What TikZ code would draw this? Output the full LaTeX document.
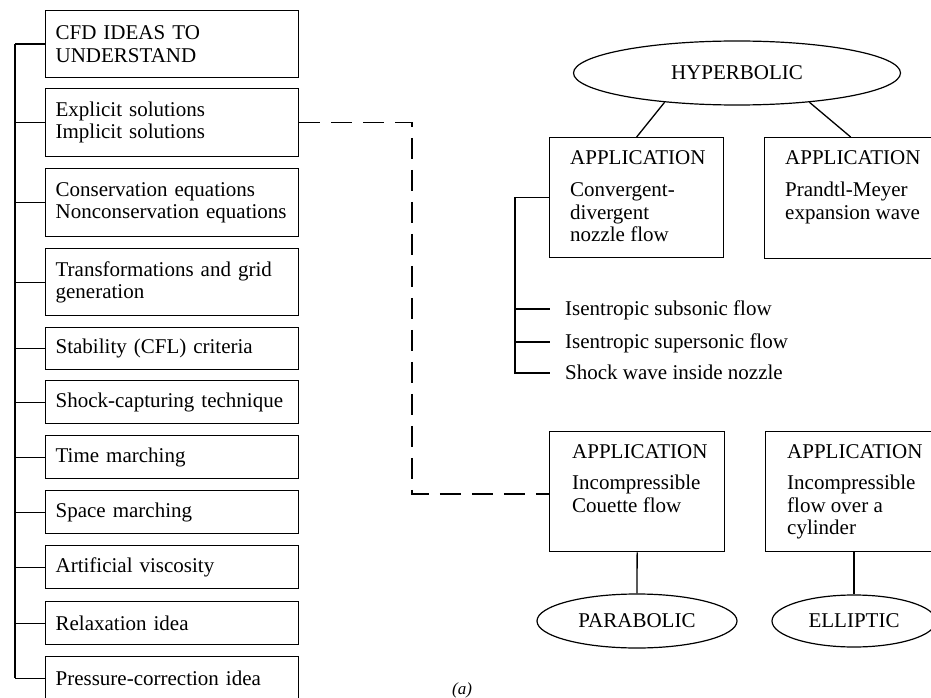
\documentclass[tikz,border=0pt]{standalone}
\usepackage{fontspec}
\setmainfont{Liberation Serif}
\usetikzlibrary{shapes.geometric}
\begin{document}
\begin{tikzpicture}[x=1bp,y=-1bp,
  every node/.style={font=\fontsize{21bp}{22.5bp}\selectfont},
  ln/.style={line width=1.3bp},
  lbox/.style={draw, line width=1.3bp, anchor=north west, text width=233bp, inner xsep=10bp, inner ysep=0pt, align=left},
  abox/.style={draw, line width=1.3bp, anchor=north west, inner sep=0pt},
  atext/.style={anchor=base west, inner sep=0pt},
  oval/.style={draw, ellipse, line width=1.2bp, inner sep=0pt},
  item/.style={anchor=west, inner xsep=15bp, inner ysep=0pt, text height=15bp, text depth=3bp},
  dashline/.style={line width=1.1bp, dash pattern=on 21bp off 11bp}
]
\useasboundingbox (0,0) rectangle (931,698);

% left column
\node[lbox, minimum height=67bp] (b1) at (45,10) {CFD IDEAS TO\\UNDERSTAND};
\node[lbox, minimum height=68bp] (b2) at (45,88) {Explicit solutions\\Implicit solutions};
\node[lbox, minimum height=68bp] (b3) at (45,168) {Conservation equations\\Nonconservation equations};
\node[lbox, minimum height=67bp] (b4) at (45,248) {Transformations and grid\\generation};
\node[lbox, minimum height=42bp] (b5) at (45,327) {Stability (CFL) criteria};
\node[lbox, minimum height=43bp] (b6) at (45,380) {Shock-capturing technique};
\node[lbox, minimum height=43bp] (b7) at (45,435) {Time marching};
\node[lbox, minimum height=43bp] (b8) at (45,490) {Space marching};
\node[lbox, minimum height=43bp] (b9) at (45,545) {Artificial viscosity};
\node[lbox, minimum height=43bp] (b10) at (45,601) {Relaxation idea};
\node[lbox, minimum height=43bp] (b11) at (45,656) {Pressure-correction idea};

\coordinate (lt) at (15,0);
\draw[ln] (b1.west -| lt) -- (b11.west -| lt);
\foreach \i in {1,...,11} {\draw[ln] (b\i.west) -- (b\i.west -| lt);}

% right side
\node[oval, minimum width=327bp, minimum height=64bp] (hyp) at (737,73) {HYPERBOLIC};
\node[abox, minimum width=174bp, minimum height=120bp] (conv) at (549,137) {};
\node[abox, minimum width=172bp, minimum height=121bp] (pm) at (764,137) {};
\node[abox, minimum width=175bp, minimum height=120bp] (cou) at (549,431) {};
\node[abox, minimum width=172bp, minimum height=120bp] (cyl) at (765,431) {};
\node[oval, minimum width=200bp, minimum height=54bp] (par) at (637,621) {PARABOLIC};
\node[oval, minimum width=164bp, minimum height=52bp] (ell) at (854,621) {ELLIPTIC};

\node[atext] (convt) at ([shift={(21,28)}]conv.north west) {\parbox[t]{150bp}{APPLICATION\\[9bp]Convergent-\\divergent\\nozzle flow}};
\node[atext] (pmt) at ([shift={(21,28)}]pm.north west) {\parbox[t]{150bp}{APPLICATION\\[9bp]Prandtl-Meyer\\expansion wave}};
\node[atext] (cout) at ([shift={(23,27)}]cou.north west) {\parbox[t]{150bp}{APPLICATION\\[9bp]Incompressible\\Couette flow}};
\node[atext] (cylt) at ([shift={(22,27)}]cyl.north west) {\parbox[t]{150bp}{APPLICATION\\[9bp]Incompressible\\flow over a\\cylinder}};

\draw[ln] (hyp.202) -- (conv.north);
\draw[ln] (hyp.338) -- (pm.north);
\draw[ln] (cou.south) -- (par.north);
\draw[ln] (ell.north) -- (ell.north |- cyl.south);

% nozzle cases
\coordinate (vx) at (515,0);
\node[item] (i1) at (550,309) {Isentropic subsonic flow};
\node[item] (i2) at (550,342) {Isentropic supersonic flow};
\node[item] (i3) at (550,373) {Shock wave inside nozzle};
\draw[ln] (conv.west) -- (conv.west -| vx) -- (i3.west -| vx) -- (i3.west);
\draw[ln] (i1.west -| vx) -- (i1.west);
\draw[ln] (i2.west -| vx) -- (i2.west);

% dashed link
\coordinate (d1) at (412,123);
\coordinate (d2) at (412,494);
\draw[dashline] (b2.east) -- (b2.east -| d1) -- (d2) -- (d2 -| cou.west);

\node[font=\fontsize{17bp}{20bp}\selectfont\itshape] (lab) at (462,690) {(a)};
\end{tikzpicture}
\end{document}
